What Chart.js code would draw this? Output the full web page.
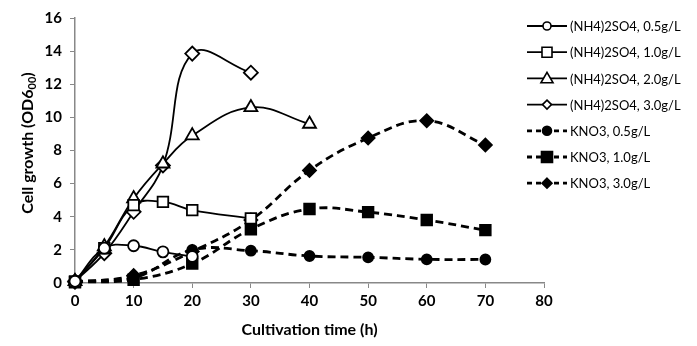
<!DOCTYPE html>
<html>
<head>
<meta charset="utf-8">
<script src="https://cdn.jsdelivr.net/npm/chart.js@4"></script>
<style>
  body { margin: 0; background: #fff; }
  #wrap { width: 697px; height: 346px; }
</style>
</head>
<body>
<div id="wrap"><canvas id="myChart" width="697" height="346"></canvas></div>
<script>
// data
const labels = [
  '(NH4)2SO4, 0.5g/L',
  '(NH4)2SO4, 1.0g/L',
  '(NH4)2SO4, 2.0g/L',
  '(NH4)2SO4, 3.0g/L',
  'KNO3, 0.5g/L',
  'KNO3, 1.0g/L',
  'KNO3, 3.0g/L'
];
const xTicks = [0, 10, 20, 30, 40, 50, 60, 70, 80];
const yTicks = [0, 2, 4, 6, 8, 10, 12, 14, 16];

const nh4Time05 = [0, 5, 10, 15, 20];
const nh4Od05 = [0.1, 2.1, 2.25, 1.88, 1.6];
const nh4Time10 = [0, 5, 10, 15, 20, 30];
const nh4Od10 = [0.1, 2.1, 4.7, 4.9, 4.4, 3.9];
const nh4Time20 = [0, 5, 10, 15, 20, 30, 40];
const nh4Od20 = [0.1, 2.2, 5.1, 7.2, 8.9, 10.6, 9.6];
const nh4Time30 = [0, 5, 10, 15, 20, 30];
const nh4Od30 = [0.1, 1.8, 4.3, 7.1, 13.85, 12.7];

const kno3Time = [0, 10, 20, 30, 40, 50, 60, 70];
const kno3Od05 = [0.1, 0.3, 2.0, 1.95, 1.63, 1.55, 1.43, 1.42];
const kno3Od10 = [0.05, 0.2, 1.17, 3.25, 4.47, 4.28, 3.8, 3.19];
const kno3Od30 = [0.05, 0.45, 1.9, 3.8, 6.8, 8.75, 9.8, 8.33];

const styles = [
  { shape: 'circle', r: 5.5, fill: '#fff', dash: [] },
  { shape: 'rect', r: 7.5, fill: '#fff', dash: [] },
  { shape: 'triangle', r: 7.5, fill: '#fff', dash: [] },
  { shape: 'rectRot', r: 7, fill: '#fff', dash: [] },
  { shape: 'circle', r: 5, fill: '#000', dash: [8, 5] },
  { shape: 'rect', r: 7.5, fill: '#000', dash: [8, 5] },
  { shape: 'rectRot', r: 6.5, fill: '#000', dash: [8, 5] }
];

function pts(xs, ys) {
  return xs.map((x, i) => ({ x: x, y: ys[i] }));
}

const seriesData = [
  pts(nh4Time05, nh4Od05),
  pts(nh4Time10, nh4Od10),
  pts(nh4Time20, nh4Od20),
  pts(nh4Time30, nh4Od30),
  pts(kno3Time, kno3Od05),
  pts(kno3Time, kno3Od10),
  pts(kno3Time, kno3Od30)
];

const datasets = seriesData.map((d, i) => ({
  label: labels[i],
  data: d,
  borderColor: '#000',
  borderWidth: styles[i].dash.length ? 2.8 : 1.8,
  borderDash: styles[i].dash,
  tension: 0.4,
  pointStyle: styles[i].shape,
  pointRadius: styles[i].r,
  pointBackgroundColor: styles[i].fill,
  pointBorderColor: '#000',
  pointBorderWidth: 1.8,
  clip: false
}));

// draws a small marker for the legend
function marker(ctx, shape, x, y, r, fill) {
  ctx.beginPath();
  if (shape === 'circle') {
    ctx.arc(x, y, r, 0, Math.PI * 2);
  } else if (shape === 'rect') {
    ctx.rect(x - r, y - r, 2 * r, 2 * r);
  } else if (shape === 'triangle') {
    ctx.moveTo(x, y - r * 1.1);
    ctx.lineTo(x + r * 1.1, y + r * 0.8);
    ctx.lineTo(x - r * 1.1, y + r * 0.8);
    ctx.closePath();
  } else {
    ctx.moveTo(x, y - r);
    ctx.lineTo(x + r, y);
    ctx.lineTo(x, y + r);
    ctx.lineTo(x - r, y);
    ctx.closePath();
  }
  ctx.fillStyle = fill;
  ctx.fill();
  ctx.lineWidth = 1.6;
  ctx.strokeStyle = '#000';
  ctx.stroke();
}

const extras = {
  id: 'extras',
  afterDraw(chart) {
    const ctx = chart.ctx;
    ctx.save();
    // x title
    ctx.fillStyle = '#000';
    ctx.font = 'bold 16px Lato';
    ctx.textAlign = 'center';
    ctx.textBaseline = 'middle';
    ctx.fillText('Cultivation time (h)', (chart.chartArea.left + chart.chartArea.right) / 2, 330);

    // y title with subscript
    ctx.translate(28, 143);
    ctx.rotate(-Math.PI / 2);
    const main = 'Cell growth (OD6';
    const sub = '00';
    const end = ')';
    ctx.font = 'bold 16px Lato';
    const w1 = ctx.measureText(main).width;
    const w3 = ctx.measureText(end).width;
    ctx.font = 'bold 11px Lato';
    const w2 = ctx.measureText(sub).width;
    let sx = -(w1 + w2 + w3) / 2;
    ctx.textAlign = 'left';
    ctx.font = 'bold 16px Lato';
    ctx.fillText(main, sx, 0);
    ctx.font = 'bold 11px Lato';
    ctx.fillText(sub, sx + w1, 4);
    ctx.font = 'bold 16px Lato';
    ctx.fillText(end, sx + w1 + w2, 0);
    ctx.setTransform(1, 0, 0, 1, 0, 0);

    // legend
    const legendSize = [4, 5, 5.5, 4.5, 4.5, 5.5, 5];
    ctx.font = '13px Lato';
    ctx.textBaseline = 'middle';
    labels.forEach((lab, i) => {
      const y = 26 + i * 26.2;
      ctx.beginPath();
      ctx.setLineDash(styles[i].dash.length ? [5, 4] : []);
      ctx.lineWidth = styles[i].dash.length ? 2.8 : 1.8;
      ctx.strokeStyle = '#000';
      ctx.moveTo(527, y);
      ctx.lineTo(567, y);
      ctx.stroke();
      ctx.setLineDash([]);
      marker(ctx, styles[i].shape, 547, y, legendSize[i], styles[i].fill);
      ctx.fillStyle = '#000';
      ctx.textAlign = 'left';
      ctx.fillText(lab, 570, y + 1);
    });
    ctx.restore();
  }
};

function makeChart() {
  const ctx = document.getElementById('myChart');
  return new Chart(ctx, {
    type: 'line',
    data: { datasets: datasets },
    options: {
      responsive: false,
      animation: false,
      layout: { padding: { top: 18, right: 153, bottom: 0, left: 0 } },
      plugins: {
        legend: { display: false },
        tooltip: { enabled: false }
      },
      scales: {
        x: {
          type: 'linear',
          min: 0,
          max: 80,
          afterFit: (s) => { s.height = 63; },
          afterBuildTicks: (s) => { s.ticks = xTicks.map((v) => ({ value: v })); },
          grid: { drawOnChartArea: false, drawTicks: true, tickLength: 5, color: '#888' },
          border: { color: '#888', width: 1.5 },
          ticks: { color: '#000', font: { family: 'Lato', weight: 'bold', size: 15 }, padding: 4, maxRotation: 0 }
        },
        y: {
          min: 0,
          max: 16,
          afterFit: (s) => { s.width = 75; },
          afterBuildTicks: (s) => { s.ticks = yTicks.map((v) => ({ value: v })); },
          grid: { drawOnChartArea: false, drawTicks: true, tickLength: 5, color: '#888' },
          border: { color: '#888', width: 1.5 },
          ticks: { color: '#000', font: { family: 'Lato', weight: 'bold', size: 15 }, padding: 8 }
        }
      }
    },
    plugins: [extras]
  });
}

document.addEventListener('DOMContentLoaded', () => makeChart());
</script>
</body>
</html>
